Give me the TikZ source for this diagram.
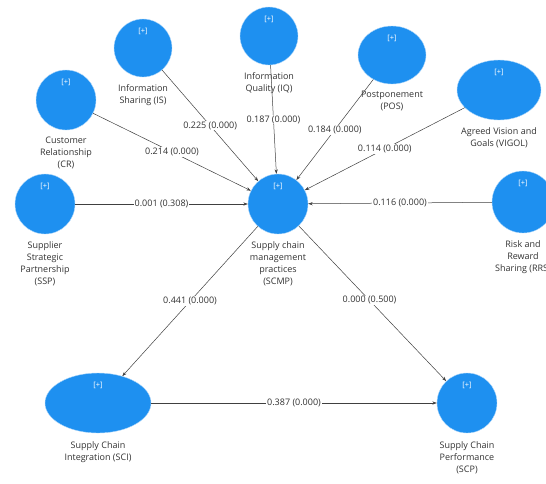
\documentclass[tikz,border=0pt]{standalone}
\usepackage{fontspec}
\setmainfont{Open Sans}
\usetikzlibrary{arrows.meta,shapes.geometric}
\definecolor{lvblue}{RGB}{30,144,240}
\definecolor{txtgray}{RGB}{50,50,50}
\newcommand{\plusmark}{[+]}
\begin{document}
\begin{tikzpicture}[x=1pt,y=-1pt,
  lv/.style={ellipse,fill=lvblue,draw=lvblue!35,line width=0.4pt,inner sep=0pt,
    label={[anchor=north,yshift=-6pt,text=white,font=\fontsize{7.5}{8}\selectfont]north:{\plusmark}}},
  cname/.style={anchor=north,align=center,inner sep=0pt,text=txtgray,
    font=\fontsize{9}{12}\selectfont},
  conn/.style={draw=black!75,line width=0.5pt,-{Stealth[length=4.5pt,width=3.2pt]}},
  elab/.style={fill=white,inner sep=0.8pt,text=txtgray,font=\fontsize{9}{10}\selectfont}]
\useasboundingbox (0,0) rectangle (546,483);
\clip (0,0) rectangle (546,483);
% constructs
\node[lv,minimum width=58,minimum height=58] (IS) at (143,48) {};
\node[lv,minimum width=58,minimum height=58] (IQ) at (269,36) {};
\node[lv,minimum width=68,minimum height=58] (POS) at (392,55) {};
\node[lv,minimum width=84,minimum height=60] (VIGOL) at (499,90) {};
\node[lv,minimum width=60,minimum height=60] (CR) at (66,100) {};
\node[lv,minimum width=60,minimum height=60] (SSP) at (45,204) {};
\node[lv,minimum width=60,minimum height=60] (SCMP) at (278,204) {};
\node[lv,minimum width=62,minimum height=62] (RRS) at (523,202) {};
\node[lv,minimum width=106,minimum height=60] (SCI) at (98,403) {};
\node[lv,minimum width=60,minimum height=60] (SCP) at (467,403) {};
% names
\node[cname] (ISn) at ([yshift=-7pt]IS.south) {Information\\Sharing (IS)};
\node[cname] (IQn) at ([yshift=-7pt]IQ.south) {Information\\Quality (IQ)};
\node[cname] (POSn) at ([yshift=-7pt]POS.south) {Postponement\\(POS)};
\node[cname] (VIGOLn) at ([yshift=-7pt]VIGOL.south) {Agreed Vision and\\Goals (VIGOL)};
\node[cname] (CRn) at ([yshift=-7pt]CR.south) {Customer\\Relationship\\(CR)};
\node[cname] (SSPn) at ([yshift=-7pt]SSP.south) {Supplier\\Strategic\\Partnership\\(SSP)};
\node[cname] (SCMPn) at ([yshift=-7pt]SCMP.south) {Supply chain\\management\\practices\\(SCMP)};
\node[cname] (RRSn) at ([yshift=-7pt]RRS.south) {Risk and\\Reward\\Sharing (RRS)};
\node[cname] (SCIn) at ([yshift=-8pt]SCI.south) {Supply Chain\\Integration (SCI)};
\node[cname] (SCPn) at ([yshift=-8pt]SCP.south) {Supply Chain\\Performance\\(SCP)};
% paths
\draw[conn] (IS) -- node[elab] {0.225 (0.000)} (SCMP);
\draw[conn] (IQ) -- node[elab] {0.187 (0.000)} (SCMP);
\draw[conn] (POS) -- node[elab] {0.184 (0.000)} (SCMP);
\draw[conn] (VIGOL) -- node[elab] {0.114 (0.000)} (SCMP);
\draw[conn] (CR) -- node[elab] {0.214 (0.000)} (SCMP);
\draw[conn] (SSP) -- node[elab] {0.001 (0.308)} (SCMP);
\draw[conn] (RRS) -- node[elab] {0.116 (0.000)} (SCMP);
\draw[conn] (SCMP) -- node[elab] {0.441 (0.000)} (SCI);
\draw[conn] (SCMP) -- node[elab,pos=0.48] {0.000 (0.500)} (SCP);
\draw[conn] (SCI) -- node[elab] {0.387 (0.000)} (SCP);
\end{tikzpicture}
\end{document}
